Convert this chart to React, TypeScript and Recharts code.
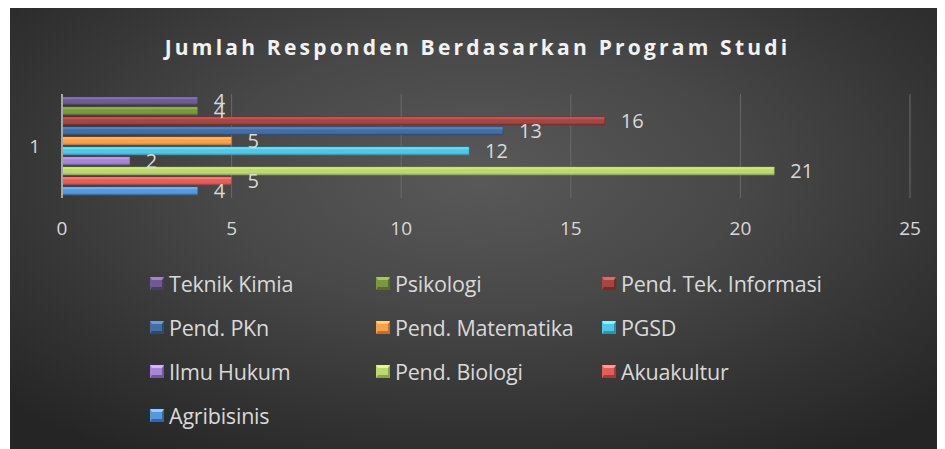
import { BarChart, Bar, XAxis, YAxis, CartesianGrid, Legend, LabelList } from "recharts";

const categories = ["1"];
const programs = [
  "Teknik Kimia",
  "Psikologi",
  "Pend. Tek. Informasi",
  "Pend. PKn",
  "Pend. Matematika",
  "PGSD",
  "Ilmu Hukum",
  "Pend. Biologi",
  "Akuakultur",
  "Agribisinis",
];
const responden = [4, 4, 16, 13, 5, 12, 2, 21, 5, 4];
const xTicks = [0, 5, 10, 15, 20, 25];

// [highlight, base, shadow]
const colors = [
  ["#9d89c0", "#6f5a93", "#4a3a66"],
  ["#a6c46a", "#7a9840", "#566d28"],
  ["#d0706d", "#a84441", "#7a2826"],
  ["#7399cc", "#426ea6", "#2a4b78"],
  ["#ffd08e", "#f8a04a", "#c46f22"],
  ["#9beaff", "#4fc8e6", "#2a95b2"],
  ["#d1b8f2", "#a885d6", "#7358a0"],
  ["#e2f4a6", "#bcd86e", "#89a544"],
  ["#ff9e99", "#e35e59", "#a83a36"],
  ["#9cc9f5", "#5599dc", "#2f68a8"],
];

const data = categories.map((name) => {
  const row: any = { name };
  programs.forEach((p, i) => {
    row[p] = responden[i];
  });
  return row;
});

const FONT = "'Open Sans', sans-serif";

const LegendContent = ({ payload }: any) => {
  const items = [...(payload || [])].sort(
    (a: any, b: any) => programs.indexOf(a.value) - programs.indexOf(b.value)
  );
  return (
    <div
      style={{
        display: "grid",
        gridTemplateColumns: "226px 226px 226px",
        gridAutoRows: "44px",
        paddingLeft: 140,
        fontFamily: FONT,
        fontSize: 21.5,
        color: "#d9d9d9",
      }}
    >
      {items.map((item: any) => {
        const c = colors[programs.indexOf(item.value)];
        return (
          <div key={item.value} style={{ display: "flex", alignItems: "center" }}>
            <span
              style={{
                width: 14,
                height: 13,
                marginRight: 5,
                boxSizing: "border-box",
                background: c[1],
                borderTop: `3px solid ${c[0]}`,
                borderBottom: `3px solid ${c[2]}`,
                borderLeft: `2px solid ${c[1]}`,
                borderRight: `2px solid ${c[2]}`,
              }}
            />
            <span style={{ letterSpacing: -0.2 }}>{item.value}</span>
          </div>
        );
      })}
    </div>
  );
};

export default function App() {
  return (
    <div
      style={{
        marginLeft: 2,
        width: 935,
        height: 441,
        position: "relative",
        background:
          "radial-gradient(ellipse 70% 75% at 50% 38%, #595959 0%, #484848 40%, #333333 75%, #252525 100%)",
      }}
    >
      <div
        style={{
          position: "absolute",
          top: 25,
          left: 0,
          width: 935,
          textAlign: "center",
          fontFamily: FONT,
          fontWeight: 700,
          fontSize: 21,
          letterSpacing: 3.2,
          color: "#f2f2f2",
        }}
      >
        Jumlah Responden Berdasarkan Program Studi
      </div>
      <BarChart
        width={935}
        height={441}
        data={data}
        layout="vertical"
        margin={{ top: 86, right: 35, left: 0, bottom: 221 }}
        barCategoryGap={2}
        barGap={2}
        style={{ position: "absolute", top: 0, left: 0 }}
      >
        <defs>
          {colors.map((c, i) => (
            <linearGradient key={i} id={`bevel${i}`} x1="0" y1="0" x2="0" y2="1">
              <stop offset="0%" stopColor={c[0]} />
              <stop offset="35%" stopColor={c[1]} />
              <stop offset="75%" stopColor={c[1]} />
              <stop offset="100%" stopColor={c[2]} />
            </linearGradient>
          ))}
        </defs>
        <CartesianGrid horizontal={false} stroke="#6a6a6a" strokeWidth={1} />
        <XAxis
          type="number"
          domain={[0, 25]}
          ticks={xTicks}
          axisLine={false}
          tickLine={false}
          tickMargin={18}
          height={30}
          tick={{ fill: "#d9d9d9", fontSize: 19, fontFamily: FONT }}
        />
        <YAxis
          type="category"
          dataKey="name"
          width={52}
          axisLine={{ stroke: "#a6a6a6", strokeWidth: 2 }}
          tickLine={false}
          tickMargin={16}
          tick={{ fill: "#d9d9d9", fontSize: 19, fontFamily: FONT }}
        />
        <Legend
          layout="horizontal"
          verticalAlign="middle"
          content={<LegendContent />}
          wrapperStyle={{ position: "absolute", top: 253, left: 0, width: 935 }}
        />
        {programs.map((p, i) => (
          <Bar
            key={p}
            dataKey={p}
            name={p}
            fill={`url(#bevel${i})`}
            stroke={colors[i][2]}
            strokeWidth={0.5}
            barSize={8}
            isAnimationActive={false}
          >
            <LabelList
              dataKey={p}
              position="right"
              offset={16}
              fill="#d9d9d9"
              fontSize={20}
              fontFamily={FONT}
            />
          </Bar>
        ))}
      </BarChart>
    </div>
  );
}
